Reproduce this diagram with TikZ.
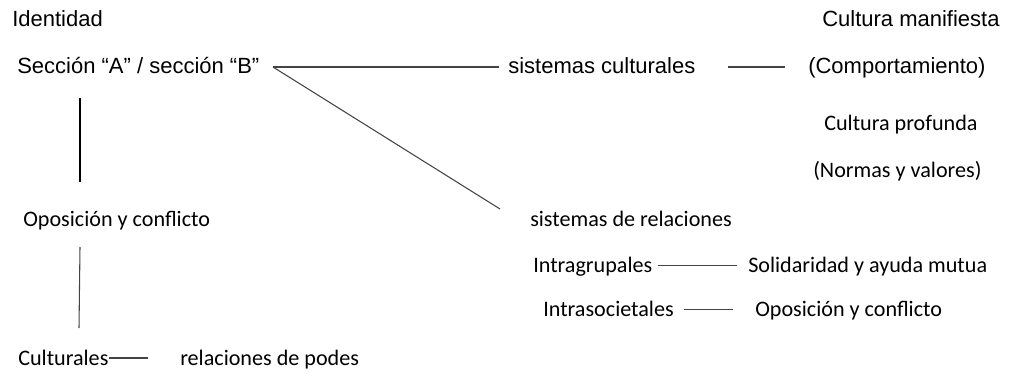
\documentclass[tikz,border=0pt]{standalone}
\usepackage{fontspec}
\setmainfont{Liberation Sans}
\newfontfamily\calfont{Carlito}
\usepackage{tikz}
\usetikzlibrary{calc}
\definecolor{linegray}{HTML}{444444}

\begin{document}
\begin{tikzpicture}[x=0.75pt,y=-0.75pt,
  arial/.style={anchor=base west,inner sep=0pt,font=\fontsize{16.5}{19}\selectfont},
  calib/.style={anchor=base west,inner sep=0pt,font=\calfont\fontsize{16.6}{19}\selectfont},
  link/.style={draw=linegray,line width=0.8pt}]

  \useasboundingbox (0,0) rectangle (1023,381);

  % left column
  \node[arial] (ident) at (12,27) {Identidad};
  \node[arial] (secc) at (17,74) {Sección “A” / sección “B”};
  \node[calib] (opos) at (23,226) {Oposición y conflicto};
  \node[calib] (cult) at (18,365) {Culturales};
  \node[calib] (poder) at (180,365) {relaciones de podes};

  % upper branch
  \node[arial] (sisc) at (508,74) {sistemas culturales};
  \node[arial] (manif) at (822,27) {Cultura manifiesta};
  \node[arial] (comp) at (808,74) {(Comportamiento)};
  \node[calib] (prof) at (824,131) {Cultura profunda};
  \node[calib] (norm) at (813,177) {(Normas y valores)};

  % lower branch
  \node[calib] (sisr) at (530,226) {sistemas de relaciones};
  \node[calib] (intra) at (533,272) {Intragrupales};
  \node[calib] (solid) at (748,272) {Solidaridad y ayuda mutua};
  \node[calib] (inso) at (543,316) {Intrasocietales};
  \node[calib] (opos2) at (755,316) {Oposición y conflicto};

  \coordinate (d0) at (273,67);
  \coordinate (d1) at (500,209);
  \coordinate (v0) at (80,98);
  \coordinate (v1) at (80,182);
  \coordinate (w0) at (80,247);
  \coordinate (w1) at (79,328);

  \draw[link] (d0) -- ($(sisc.base west)+(-9,-7)$);
  \draw[link] (d0) -- (d1);
  \draw[link] ($(sisc.base east)+(32,-7)$) -- ($(comp.base west)+(-23,-7)$);
  \draw[link] ($(intra.base east)+(5,-6.5)$) -- ($(solid.base west)+(-11,-6.5)$);
  \draw[link] ($(inso.base east)+(10,-6.5)$) -- ($(opos2.base west)+(-22,-6.5)$);
  \draw[link] ($(cult.base east)+(0,-7)$) -- ($(cult.base east)+(39,-7)$);
  \draw[black,line width=2.2pt] (v0) -- (v1);
  \draw[link] (w0) -- (w1);
\end{tikzpicture}
\end{document}
